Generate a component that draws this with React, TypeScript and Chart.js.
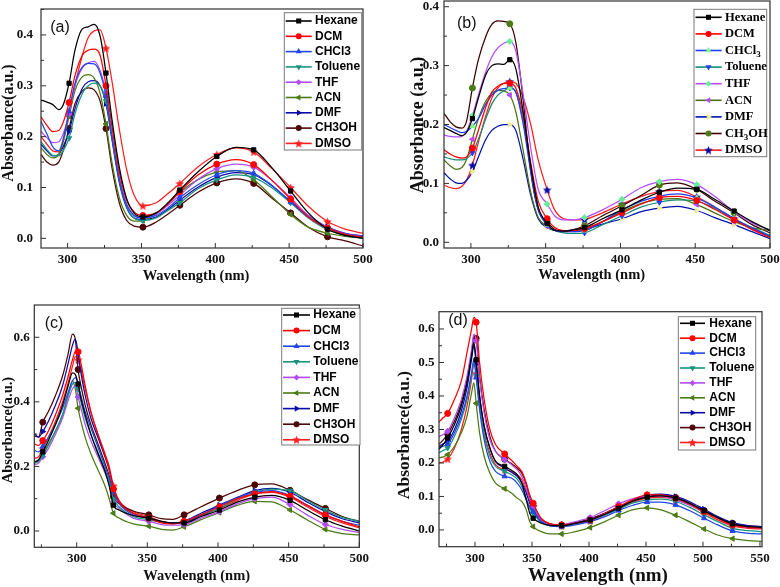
import React, { useEffect, useRef } from 'react';
import { Chart, registerables } from 'chart.js';
Chart.register(...registerables);

// ---------- names ----------
const NAMES = ['Hexane', 'DCM', 'CHCl3', 'Toluene', 'THF', 'ACN', 'DMF', 'CH3OH', 'DMSO'];
const NAMES_B = ['Hexane', 'DCM', 'CHCl_3', 'Toluene', 'THF', 'ACN', 'DMF', 'CH_3OH', 'DMSO'];

// ---------- panel (a) ----------
const WL_A = [282, 286, 290, 294, 297, 301, 305, 310, 314, 318, 322, 326, 330, 335, 340, 345, 351, 360, 368, 376, 388, 401, 414, 426, 438, 451, 463, 476, 488, 500];
const A_HEXANE = [0.272, 0.268, 0.263, 0.253, 0.262, 0.305, 0.37, 0.412, 0.416, 0.421, 0.398, 0.325, 0.235, 0.14, 0.078, 0.05, 0.042, 0.05, 0.07, 0.095, 0.13, 0.161, 0.179, 0.174, 0.14, 0.093, 0.05, 0.018, 0.006, 0.0];
const A_DCM = [0.239, 0.222, 0.21, 0.212, 0.228, 0.267, 0.32, 0.36, 0.37, 0.372, 0.36, 0.30, 0.22, 0.13, 0.075, 0.052, 0.045, 0.05, 0.068, 0.092, 0.124, 0.146, 0.155, 0.145, 0.115, 0.077, 0.042, 0.02, 0.008, 0.002];
const A_CHCL3 = [0.23, 0.205, 0.18, 0.172, 0.195, 0.25, 0.305, 0.337, 0.344, 0.343, 0.325, 0.28, 0.2, 0.115, 0.065, 0.045, 0.04, 0.045, 0.06, 0.08, 0.105, 0.125, 0.133, 0.128, 0.105, 0.072, 0.042, 0.02, 0.008, 0.003];
const A_TOLUENE = [0.19, 0.175, 0.163, 0.162, 0.172, 0.197, 0.245, 0.285, 0.3, 0.305, 0.3, 0.27, 0.2, 0.115, 0.062, 0.04, 0.035, 0.04, 0.055, 0.07, 0.097, 0.115, 0.125, 0.12, 0.1, 0.07, 0.04, 0.017, 0.006, 0.0];
const A_THF = [0.21, 0.198, 0.188, 0.19, 0.205, 0.245, 0.3, 0.335, 0.345, 0.348, 0.33, 0.285, 0.205, 0.12, 0.068, 0.046, 0.041, 0.048, 0.065, 0.085, 0.115, 0.137, 0.146, 0.14, 0.115, 0.08, 0.045, 0.021, 0.009, 0.004];
const A_ACN = [0.178, 0.165, 0.158, 0.165, 0.19, 0.24, 0.29, 0.318, 0.322, 0.315, 0.285, 0.225, 0.15, 0.08, 0.045, 0.034, 0.035, 0.048, 0.068, 0.09, 0.115, 0.13, 0.133, 0.115, 0.083, 0.047, 0.022, 0.01, 0.004, 0.0];
const A_DMF = [0.185, 0.172, 0.162, 0.165, 0.18, 0.21, 0.255, 0.295, 0.308, 0.31, 0.3, 0.265, 0.195, 0.11, 0.06, 0.04, 0.037, 0.042, 0.057, 0.075, 0.1, 0.12, 0.129, 0.125, 0.104, 0.072, 0.045, 0.022, 0.01, 0.005];
const A_CH3OH = [0.165, 0.15, 0.144, 0.15, 0.172, 0.216, 0.265, 0.29, 0.296, 0.292, 0.27, 0.216, 0.14, 0.07, 0.035, 0.024, 0.022, 0.032, 0.048, 0.065, 0.09, 0.109, 0.117, 0.108, 0.08, 0.05, 0.022, 0.003, -0.005, -0.015];
const A_DMSO = [0.2, 0.185, 0.172, 0.17, 0.19, 0.243, 0.3, 0.36, 0.395, 0.408, 0.41, 0.374, 0.31, 0.215, 0.135, 0.085, 0.064, 0.07, 0.088, 0.108, 0.14, 0.165, 0.178, 0.17, 0.138, 0.1, 0.063, 0.033, 0.018, 0.01];

// ---------- panel (b) ----------
const WL_B = [282, 286, 290, 294, 297, 301, 305, 310, 314, 318, 322, 326, 330, 335, 340, 345, 351, 356, 362, 368, 376, 388, 401, 414, 426, 438, 451, 463, 476, 488, 500];
const B_HEXANE = [0.195, 0.19, 0.185, 0.181, 0.186, 0.21, 0.245, 0.285, 0.3, 0.303, 0.302, 0.31, 0.295, 0.22, 0.13, 0.06, 0.032, 0.02, 0.019, 0.021, 0.025, 0.04, 0.055, 0.072, 0.085, 0.092, 0.09, 0.073, 0.053, 0.035, 0.02];
const B_DCM = [0.157, 0.15, 0.145, 0.143, 0.145, 0.16, 0.19, 0.23, 0.255, 0.265, 0.27, 0.27, 0.262, 0.215, 0.135, 0.07, 0.04, 0.025, 0.02, 0.02, 0.023, 0.035, 0.05, 0.065, 0.076, 0.078, 0.071, 0.056, 0.038, 0.022, 0.008];
const B_CHCL3 = [0.2, 0.195, 0.19, 0.186, 0.188, 0.197, 0.21, 0.235, 0.25, 0.258, 0.261, 0.262, 0.255, 0.2, 0.12, 0.055, 0.03, 0.02, 0.018, 0.018, 0.02, 0.035, 0.055, 0.07, 0.078, 0.082, 0.075, 0.06, 0.04, 0.024, 0.01];
const B_TOLUENE = [0.145, 0.142, 0.14, 0.14, 0.142, 0.152, 0.175, 0.21, 0.235, 0.25, 0.257, 0.262, 0.255, 0.205, 0.125, 0.058, 0.03, 0.02, 0.016, 0.015, 0.016, 0.03, 0.045, 0.06, 0.068, 0.072, 0.07, 0.058, 0.04, 0.025, 0.012];
const B_THF = [0.182, 0.18, 0.179, 0.18, 0.188, 0.215, 0.25, 0.29, 0.315, 0.33, 0.338, 0.341, 0.325, 0.25, 0.16, 0.09, 0.065, 0.045, 0.038, 0.038, 0.042, 0.055, 0.073, 0.093, 0.103, 0.107, 0.098, 0.078, 0.052, 0.033, 0.021];
const B_ACN = [0.14, 0.13, 0.124, 0.127, 0.14, 0.175, 0.21, 0.24, 0.253, 0.258, 0.257, 0.25, 0.222, 0.155, 0.085, 0.042, 0.027, 0.02, 0.018, 0.019, 0.02, 0.035, 0.052, 0.066, 0.073, 0.074, 0.064, 0.05, 0.035, 0.025, 0.02];
const B_DMF = [0.118, 0.108, 0.101, 0.1, 0.105, 0.12, 0.145, 0.175, 0.19, 0.197, 0.2, 0.2, 0.19, 0.14, 0.08, 0.04, 0.025, 0.02, 0.019, 0.02, 0.022, 0.031, 0.04, 0.052, 0.058, 0.061, 0.054, 0.042, 0.03, 0.018, 0.006];
const B_CH3OH = [0.219, 0.205, 0.196, 0.194, 0.205, 0.262, 0.31, 0.35, 0.37, 0.376, 0.375, 0.371, 0.34, 0.24, 0.12, 0.055, 0.035, 0.022, 0.019, 0.021, 0.028, 0.045, 0.062, 0.08, 0.097, 0.101, 0.09, 0.07, 0.05, 0.03, 0.016];
const B_DMSO = [0.097, 0.093, 0.091, 0.095, 0.105, 0.131, 0.17, 0.215, 0.245, 0.262, 0.27, 0.273, 0.27, 0.245, 0.2, 0.14, 0.089, 0.055, 0.04, 0.038, 0.039, 0.05, 0.065, 0.078, 0.086, 0.088, 0.077, 0.06, 0.04, 0.022, 0.01];

// ---------- panel (c) ----------
const WL_C = [270, 273, 276, 280, 285, 290, 294, 297, 299, 301, 303, 306, 310, 315, 320, 323, 326, 330, 340, 351, 360, 368, 376, 388, 401, 414, 426, 438, 451, 463, 476, 488, 500];
const C_HEXANE = [0.215, 0.22, 0.245, 0.28, 0.33, 0.39, 0.45, 0.49, 0.485, 0.455, 0.41, 0.36, 0.3, 0.24, 0.185, 0.14, 0.08, 0.065, 0.048, 0.04, 0.03, 0.025, 0.025, 0.045, 0.065, 0.09, 0.105, 0.11, 0.095, 0.065, 0.035, 0.015, 0.0];
const C_DCM = [0.27, 0.265, 0.28, 0.31, 0.36, 0.42, 0.48, 0.53, 0.555, 0.555, 0.52, 0.45, 0.37, 0.3, 0.235, 0.19, 0.13, 0.09, 0.055, 0.04, 0.025, 0.022, 0.03, 0.05, 0.075, 0.1, 0.115, 0.122, 0.108, 0.08, 0.05, 0.03, 0.013];
const C_CHCL3 = [0.25, 0.245, 0.262, 0.29, 0.33, 0.38, 0.43, 0.465, 0.475, 0.455, 0.42, 0.37, 0.32, 0.26, 0.2, 0.165, 0.12, 0.085, 0.05, 0.04, 0.028, 0.024, 0.028, 0.05, 0.078, 0.103, 0.12, 0.125, 0.11, 0.08, 0.05, 0.03, 0.018];
const C_TOLUENE = [0.21, 0.215, 0.235, 0.265, 0.31, 0.36, 0.42, 0.455, 0.46, 0.44, 0.4, 0.35, 0.3, 0.245, 0.19, 0.155, 0.1, 0.075, 0.045, 0.035, 0.027, 0.025, 0.025, 0.048, 0.07, 0.1, 0.12, 0.13, 0.125, 0.095, 0.065, 0.042, 0.03];
const C_THF = [0.205, 0.21, 0.23, 0.255, 0.3, 0.35, 0.405, 0.44, 0.45, 0.415, 0.38, 0.33, 0.28, 0.23, 0.18, 0.145, 0.09, 0.07, 0.04, 0.03, 0.02, 0.018, 0.02, 0.04, 0.06, 0.085, 0.1, 0.105, 0.082, 0.05, 0.02, 0.005, -0.005];
const C_ACN = [0.21, 0.22, 0.24, 0.27, 0.31, 0.36, 0.42, 0.465, 0.44, 0.38, 0.34, 0.29, 0.24, 0.19, 0.14, 0.1, 0.055, 0.04, 0.022, 0.015, 0.005, 0.003, 0.013, 0.035, 0.057, 0.08, 0.092, 0.09, 0.065, 0.035, 0.005, -0.008, -0.012];
const C_DMF = [0.303, 0.29, 0.308, 0.34, 0.39, 0.45, 0.52, 0.575, 0.595, 0.551, 0.49, 0.42, 0.35, 0.29, 0.23, 0.19, 0.13, 0.09, 0.055, 0.04, 0.027, 0.024, 0.03, 0.055, 0.08, 0.105, 0.125, 0.132, 0.12, 0.09, 0.06, 0.038, 0.025];
const C_CH3OH = [0.294, 0.292, 0.337, 0.37, 0.42, 0.48, 0.55, 0.61, 0.595, 0.50, 0.45, 0.39, 0.33, 0.27, 0.21, 0.17, 0.106, 0.085, 0.062, 0.05, 0.038, 0.036, 0.05, 0.075, 0.102, 0.126, 0.143, 0.146, 0.126, 0.098, 0.07, 0.045, 0.03];
const C_DMSO = [0.225, 0.23, 0.255, 0.29, 0.34, 0.4, 0.46, 0.51, 0.54, 0.53, 0.5, 0.44, 0.37, 0.3, 0.24, 0.2, 0.14, 0.095, 0.06, 0.045, 0.03, 0.025, 0.03, 0.05, 0.07, 0.095, 0.115, 0.12, 0.105, 0.075, 0.045, 0.025, 0.01];

// ---------- panel (d) ----------
const WL_D = [268, 272, 276, 282, 288, 293, 297, 299, 301, 304, 308, 313, 318, 326, 332, 337, 341, 345, 348, 351, 358, 366, 376, 388, 401, 414, 426, 438, 451, 463, 476, 488, 501, 513, 526, 540, 552];
const D_HEXANE = [0.24, 0.255, 0.275, 0.315, 0.37, 0.44, 0.52, 0.56, 0.508, 0.4, 0.31, 0.245, 0.205, 0.19, 0.178, 0.165, 0.14, 0.09, 0.05, 0.035, 0.02, 0.014, 0.013, 0.02, 0.03, 0.047, 0.065, 0.085, 0.098, 0.102, 0.095, 0.08, 0.057, 0.037, 0.018, 0.01, 0.008];
const D_DCM = [0.321, 0.335, 0.348, 0.39, 0.445, 0.53, 0.6, 0.635, 0.62, 0.5, 0.39, 0.3, 0.255, 0.227, 0.208, 0.19, 0.175, 0.14, 0.105, 0.08, 0.035, 0.018, 0.015, 0.02, 0.03, 0.05, 0.07, 0.09, 0.105, 0.105, 0.095, 0.078, 0.055, 0.035, 0.015, 0.008, 0.005];
const D_CHCL3 = [0.245, 0.25, 0.257, 0.29, 0.34, 0.4, 0.47, 0.51, 0.455, 0.36, 0.27, 0.205, 0.175, 0.16, 0.155, 0.14, 0.12, 0.09, 0.068, 0.055, 0.025, 0.012, 0.01, 0.015, 0.025, 0.04, 0.058, 0.073, 0.083, 0.083, 0.075, 0.058, 0.035, 0.015, -0.003, -0.01, -0.012];
const D_TOLUENE = [0.23, 0.237, 0.245, 0.28, 0.33, 0.39, 0.46, 0.5, 0.46, 0.37, 0.285, 0.22, 0.19, 0.175, 0.165, 0.152, 0.13, 0.095, 0.065, 0.05, 0.022, 0.012, 0.011, 0.017, 0.028, 0.045, 0.062, 0.08, 0.09, 0.092, 0.085, 0.068, 0.045, 0.025, 0.005, -0.002, -0.005];
const D_THF = [0.278, 0.285, 0.295, 0.335, 0.39, 0.46, 0.54, 0.585, 0.565, 0.45, 0.35, 0.27, 0.235, 0.21, 0.195, 0.18, 0.16, 0.125, 0.09, 0.07, 0.03, 0.017, 0.016, 0.025, 0.037, 0.058, 0.078, 0.093, 0.1, 0.1, 0.09, 0.075, 0.055, 0.035, 0.015, 0.008, 0.005];
const D_ACN = [0.215, 0.218, 0.225, 0.25, 0.29, 0.34, 0.41, 0.44, 0.378, 0.29, 0.22, 0.17, 0.14, 0.123, 0.11, 0.095, 0.085, 0.06, 0.025, 0.01, -0.005, -0.012, -0.012, -0.005, 0.007, 0.025, 0.044, 0.06, 0.066, 0.06, 0.044, 0.025, 0.003, -0.015, -0.026, -0.032, -0.034];
const D_DMF = [0.25, 0.257, 0.265, 0.3, 0.355, 0.425, 0.51, 0.55, 0.495, 0.4, 0.31, 0.245, 0.205, 0.185, 0.172, 0.16, 0.14, 0.11, 0.08, 0.06, 0.027, 0.015, 0.014, 0.02, 0.032, 0.05, 0.068, 0.088, 0.103, 0.107, 0.1, 0.085, 0.062, 0.04, 0.022, 0.013, 0.01];
const D_CH3OH = [0.255, 0.268, 0.286, 0.325, 0.38, 0.45, 0.53, 0.575, 0.572, 0.46, 0.36, 0.28, 0.235, 0.211, 0.198, 0.185, 0.17, 0.135, 0.095, 0.072, 0.032, 0.018, 0.015, 0.022, 0.033, 0.05, 0.068, 0.088, 0.1, 0.105, 0.097, 0.08, 0.058, 0.038, 0.02, 0.012, 0.01];
const D_DMSO = [0.2, 0.203, 0.212, 0.245, 0.3, 0.37, 0.45, 0.5, 0.468, 0.37, 0.29, 0.23, 0.195, 0.18, 0.175, 0.165, 0.15, 0.115, 0.085, 0.07, 0.03, 0.015, 0.012, 0.018, 0.027, 0.045, 0.065, 0.082, 0.095, 0.097, 0.09, 0.075, 0.052, 0.03, 0.012, 0.005, 0.003];

// ---------- marker positions & ticks ----------
const MARKS_AB = [301, 326, 351, 376, 401, 426, 451, 476];
const MARKS_C = [276, 301, 326, 351, 376, 401, 426, 451, 476];
const MARKS_D = [276, 301, 326, 351, 376, 401, 426, 451, 476, 501, 526];
const XT_ABC = [300, 350, 400, 450, 500];
const XM_ABC = [275, 325, 375, 425, 475];
const XT_D = [300, 350, 400, 450, 500, 550];
const XM_D = [275, 325, 375, 425, 475, 525];
const YT_AB = [0, 0.1, 0.2, 0.3, 0.4];
const YM_AB = [0.05, 0.15, 0.25, 0.35, 0.45];
const YT_C = [0, 0.2, 0.4, 0.6];
const YM_C = [0.1, 0.3, 0.5];
const YT_D = [0, 0.1, 0.2, 0.3, 0.4, 0.5, 0.6];
const YM_D = [0.05, 0.15, 0.25, 0.35, 0.45, 0.55];

type Sty = { line: string; mark: string; shape: string; rot: number };
const STY_STD: Sty[] = [
  { line: '#000000', mark: '#000000', shape: 'rect', rot: 0 },
  { line: '#ff0000', mark: '#ff0000', shape: 'circle', rot: 0 },
  { line: '#2346e6', mark: '#2346e6', shape: 'triangle', rot: 0 },
  { line: '#1a9480', mark: '#1a9480', shape: 'triangle', rot: 180 },
  { line: '#b24cf2', mark: '#b24cf2', shape: 'rectRot', rot: 0 },
  { line: '#4b7b14', mark: '#4b7b14', shape: 'triangle', rot: 270 },
  { line: '#0b0bab', mark: '#0b0bab', shape: 'triangle', rot: 90 },
  { line: '#4e0606', mark: '#4e0606', shape: 'circle', rot: 0 },
  { line: '#ff1f1f', mark: '#ff1f1f', shape: 'star', rot: 0 },
];
const STY_B: Sty[] = [
  { line: '#000000', mark: '#000000', shape: 'rect', rot: 0 },
  { line: '#ff0000', mark: '#ff0000', shape: 'circle', rot: 0 },
  { line: '#1f3cff', mark: '#7dff7d', shape: 'triangle', rot: 0 },
  { line: '#148a78', mark: '#1f3cff', shape: 'triangle', rot: 180 },
  { line: '#b54cff', mark: '#66ee99', shape: 'rectRot', rot: 0 },
  { line: '#4a7010', mark: '#b54cff', shape: 'triangle', rot: 270 },
  { line: '#0010b0', mark: '#eeee99', shape: 'triangle', rot: 90 },
  { line: '#3d0000', mark: '#4f7a1a', shape: 'circle', rot: 0 },
  { line: '#ff2020', mark: '#0a0aa0', shape: 'star', rot: 0 },
];

type Txt = { text: string; x: number; y: number; font: string };
type Leg = { box: number[]; row0: number; dy: number; l0: number; l1: number; mx: number; tx: number; font: string; subFont: string };
type Cfg = {
  ox: number; oy: number; w: number; h: number; plot: number[];
  xMin: number; xMax: number; yMin: number; yMax: number;
  xs: number[]; series: number[][]; names: string[]; styles: Sty[]; marks: number[];
  xMajor: number[]; xMinor: number[]; yMajor: number[]; yMinor: number[];
  yGap: number; xOff: number; xTitle: Txt; yTitle: Txt; tag: Txt; legend: Leg;
};

const TICKF = 'bold 13px "Liberation Serif"';
const SERIF = '"Liberation Serif"';
const SANS = '"Liberation Sans"';

const PANELS: Cfg[] = [
  {
    ox: 0, oy: 0, w: 390, h: 290, plot: [41, 9, 363, 248],
    xMin: 282, xMax: 500, yMin: -0.019, yMax: 0.451,
    xs: WL_A, series: [A_HEXANE, A_DCM, A_CHCL3, A_TOLUENE, A_THF, A_ACN, A_DMF, A_CH3OH, A_DMSO],
    names: NAMES, styles: STY_STD, marks: MARKS_AB,
    xMajor: XT_ABC, xMinor: XM_ABC, yMajor: YT_AB, yMinor: YM_AB, yGap: 8, xOff: 11.5,
    xTitle: { text: 'Wavelength (nm)', x: 196, y: 276, font: `bold 14.5px ${SERIF}` },
    yTitle: { text: 'Absorbance(a.u.)', x: 9, y: 123, font: `bold 16px ${SERIF}` },
    tag: { text: '(a)', x: 60, y: 27.5, font: `16px ${SANS}` },
    legend: { box: [284.3, 12.7, 361.7, 150], row0: 21, dy: 15.3, l0: 285.7, l1: 311.7, mx: 298.7, tx: 315, font: `bold 12px ${SANS}`, subFont: `bold 9px ${SANS}` },
  },
  {
    ox: 390, oy: 0, w: 390, h: 290, plot: [444, 1, 770, 248],
    xMin: 282, xMax: 500, yMin: -0.0097, yMax: 0.4097,
    xs: WL_B, series: [B_HEXANE, B_DCM, B_CHCL3, B_TOLUENE, B_THF, B_ACN, B_DMF, B_CH3OH, B_DMSO],
    names: NAMES_B, styles: STY_B, marks: MARKS_AB,
    xMajor: XT_ABC, xMinor: XM_ABC, yMajor: YT_AB, yMinor: YM_AB, yGap: 5, xOff: 11.5,
    xTitle: { text: 'Wavelength (nm)', x: 591.7, y: 275, font: `bold 14.5px ${SERIF}` },
    yTitle: { text: 'Absorbance (a.u.)', x: 418.5, y: 125, font: `bold 18px ${SERIF}` },
    tag: { text: '(b)', x: 466.7, y: 24, font: `16px ${SANS}` },
    legend: { box: [694, 9.3, 766.7, 156.7], row0: 17.3, dy: 16.6, l0: 695.5, l1: 721.7, mx: 708.5, tx: 725, font: `bold 12.5px ${SERIF}`, subFont: `bold 9px ${SERIF}` },
  },
  {
    ox: 0, oy: 290, w: 390, h: 297, plot: [34.3, 305, 359.3, 547.3],
    xMin: 270, xMax: 500, yMin: -0.0505, yMax: 0.70,
    xs: WL_C, series: [C_HEXANE, C_DCM, C_CHCL3, C_TOLUENE, C_THF, C_ACN, C_DMF, C_CH3OH, C_DMSO],
    names: NAMES, styles: STY_STD, marks: MARKS_C,
    xMajor: XT_ABC, xMinor: XM_ABC, yMajor: YT_C, yMinor: YM_C, yGap: 4.5, xOff: 11,
    xTitle: { text: 'Wavelength (nm)', x: 196.7, y: 576.7, font: `bold 14.5px ${SERIF}` },
    yTitle: { text: 'Absorbance(a.u.)', x: 8.3, y: 430, font: `bold 14.5px ${SERIF}` },
    tag: { text: '(c)', x: 54, y: 324, font: `16px ${SANS}` },
    legend: { box: [281.7, 308.3, 360, 445], row0: 315, dy: 15.6, l0: 283, l1: 310, mx: 296.5, tx: 313.3, font: `bold 12px ${SANS}`, subFont: `bold 9px ${SANS}` },
  },
  {
    ox: 390, oy: 290, w: 390, h: 297, plot: [439, 311.7, 762, 546.7],
    xMin: 268.4, xMax: 551.8, yMin: -0.05, yMax: 0.6516,
    xs: WL_D, series: [D_HEXANE, D_DCM, D_CHCL3, D_TOLUENE, D_THF, D_ACN, D_DMF, D_CH3OH, D_DMSO],
    names: NAMES, styles: STY_STD, marks: MARKS_D,
    xMajor: XT_D, xMinor: XM_D, yMajor: YT_D, yMinor: YM_D, yGap: 4.5, xOff: 11.5,
    xTitle: { text: 'Wavelength (nm)', x: 598, y: 576, font: `bold 19px ${SERIF}` },
    yTitle: { text: 'Absorbance(a.u.)', x: 404, y: 435, font: `bold 17.5px ${SERIF}` },
    tag: { text: '(d)', x: 458, y: 321, font: `16px ${SANS}` },
    legend: { box: [678.3, 316.7, 755.7, 450], row0: 323.3, dy: 14.9, l0: 680, l1: 705, mx: 692.5, tx: 709.3, font: `bold 12px ${SANS}`, subFont: `bold 9px ${SANS}` },
  },
];

const R = 3;

function makeStar(color: string, size = 9): HTMLCanvasElement {
  const c = document.createElement('canvas');
  c.width = size; c.height = size;
  const g = c.getContext('2d')!;
  g.fillStyle = color;
  g.beginPath();
  const cx = size / 2, cy = size / 2 + 0.5, Ro = size / 2, Ri = Ro * 0.45;
  for (let i = 0; i < 10; i++) {
    const a = -Math.PI / 2 + (i * Math.PI) / 5;
    const rr = i % 2 === 0 ? Ro : Ri;
    g.lineTo(cx + rr * Math.cos(a), cy + rr * Math.sin(a));
  }
  g.closePath();
  g.fill();
  return c;
}

function drawMarker(ctx: CanvasRenderingContext2D, st: Sty, x: number, y: number, star: HTMLCanvasElement | null) {
  ctx.save();
  ctx.fillStyle = st.mark;
  if (st.shape === 'star' && star) {
    ctx.drawImage(star, x - star.width / 2, y - star.height / 2);
    ctx.restore();
    return;
  }
  ctx.beginPath();
  if (st.shape === 'circle') {
    ctx.arc(x, y, R, 0, Math.PI * 2);
  } else if (st.shape === 'rect') {
    const s = R * Math.SQRT1_2 + 0.4;
    ctx.rect(x - s, y - s, 2 * s, 2 * s);
  } else if (st.shape === 'rectRot') {
    ctx.moveTo(x, y - R); ctx.lineTo(x + R, y); ctx.lineTo(x, y + R); ctx.lineTo(x - R, y);
  } else {
    let a = (st.rot * Math.PI) / 180;
    for (let i = 0; i < 3; i++) {
      const px = x + Math.sin(a) * (R + 0.5), py = y - Math.cos(a) * (R + 0.5);
      if (i === 0) ctx.moveTo(px, py); else ctx.lineTo(px, py);
      a += (2 * Math.PI) / 3;
    }
  }
  ctx.closePath();
  ctx.fill();
  ctx.restore();
}

function drawRich(ctx: CanvasRenderingContext2D, text: string, x: number, y: number, font: string, subFont: string) {
  const parts = text.split('_');
  let cx = x;
  parts.forEach((p, i) => {
    if (i === 0) {
      ctx.font = font; ctx.fillText(p, cx, y); cx += ctx.measureText(p).width;
    } else {
      const sub = p.charAt(0), rest = p.slice(1);
      ctx.font = subFont; ctx.fillText(sub, cx, y + 4); cx += ctx.measureText(sub).width;
      ctx.font = font; ctx.fillText(rest, cx, y); cx += ctx.measureText(rest).width;
    }
  });
}

function PanelChart({ cfg }: { cfg: Cfg }) {
  const ref = useRef<HTMLCanvasElement>(null);
  useEffect(() => {
    const canvas = ref.current!;
    const star = makeStar(cfg.styles[8].mark, 9);
    const [pl, pt, pr, pb] = cfg.plot;
    const decor = {
      id: 'decor',
      afterDraw(chart: any) {
        const ctx: CanvasRenderingContext2D = chart.ctx;
        const ca = chart.chartArea;
        const xs = chart.scales.x, ys = chart.scales.y;
        ctx.save();
        ctx.strokeStyle = '#303030';
        ctx.lineWidth = 1.2;
        ctx.strokeRect(ca.left, ca.top, ca.right - ca.left, ca.bottom - ca.top);
        ctx.lineWidth = 1;
        const tick = (x0: number, y0: number, x1: number, y1: number) => {
          ctx.beginPath(); ctx.moveTo(x0, y0); ctx.lineTo(x1, y1); ctx.stroke();
        };
        cfg.xMajor.forEach((v) => { const p = xs.getPixelForValue(v); if (p >= ca.left && p <= ca.right) tick(p, ca.bottom, p, ca.bottom - 5); });
        cfg.xMinor.forEach((v) => { const p = xs.getPixelForValue(v); if (p > ca.left && p < ca.right) tick(p, ca.bottom, p, ca.bottom - 3); });
        cfg.yMajor.forEach((v) => { const p = ys.getPixelForValue(v); if (p >= ca.top && p <= ca.bottom) tick(ca.left, p, ca.left + 5, p); });
        cfg.yMinor.forEach((v) => { const p = ys.getPixelForValue(v); if (p > ca.top && p < ca.bottom) tick(ca.left, p, ca.left + 3, p); });
        ctx.fillStyle = '#111';
        ctx.font = TICKF;
        ctx.textAlign = 'center'; ctx.textBaseline = 'middle';
        cfg.xMajor.forEach((v) => ctx.fillText(String(v), xs.getPixelForValue(v), ca.bottom + cfg.xOff));
        ctx.textAlign = 'right';
        cfg.yMajor.forEach((v) => ctx.fillText(v.toFixed(1), ca.left - cfg.yGap, ys.getPixelForValue(v)));
        // titles
        ctx.textAlign = 'center';
        ctx.font = cfg.xTitle.font;
        ctx.fillText(cfg.xTitle.text, cfg.xTitle.x - cfg.ox, cfg.xTitle.y - cfg.oy);
        ctx.save();
        ctx.translate(cfg.yTitle.x - cfg.ox, cfg.yTitle.y - cfg.oy);
        ctx.rotate(-Math.PI / 2);
        ctx.font = cfg.yTitle.font;
        ctx.fillText(cfg.yTitle.text, 0, 0);
        ctx.restore();
        ctx.font = cfg.tag.font;
        ctx.fillText(cfg.tag.text, cfg.tag.x - cfg.ox, cfg.tag.y - cfg.oy);
        // legend
        const L = cfg.legend;
        const bx = L.box[0] - cfg.ox, by = L.box[1] - cfg.oy, bw = L.box[2] - L.box[0], bh = L.box[3] - L.box[1];
        ctx.fillStyle = '#ffffff';
        ctx.fillRect(bx, by, bw, bh);
        ctx.strokeStyle = '#7a7a7a';
        ctx.lineWidth = 1;
        ctx.strokeRect(bx, by, bw, bh);
        ctx.textAlign = 'left';
        cfg.names.forEach((name, i) => {
          const st = cfg.styles[i];
          const yy = L.row0 + i * L.dy - cfg.oy;
          ctx.strokeStyle = st.line;
          ctx.lineWidth = 1.6;
          ctx.beginPath(); ctx.moveTo(L.l0 - cfg.ox, yy); ctx.lineTo(L.l1 - cfg.ox, yy); ctx.stroke();
          drawMarker(ctx, st, L.mx - cfg.ox, yy, star);
          ctx.fillStyle = '#000';
          drawRich(ctx, name, L.tx - cfg.ox, yy, L.font, L.subFont);
        });
        ctx.restore();
      },
    };
    const chart = new Chart(canvas, {
      type: 'line',
      data: {
        datasets: cfg.series.map((ys, i) => {
          const st = cfg.styles[i];
          return {
            label: cfg.names[i],
            data: cfg.xs.map((x, j) => ({ x, y: ys[j] })),
            borderColor: st.line,
            backgroundColor: st.mark,
            pointBackgroundColor: st.mark,
            pointBorderColor: st.mark,
            pointBorderWidth: 1,
            borderWidth: 1.25,
            pointStyle: (st.shape === 'star' ? star : st.shape) as any,
            pointRotation: st.rot,
            pointRadius: cfg.xs.map((x) => (cfg.marks.includes(x) ? R : 0)),
            pointHoverRadius: 0,
            cubicInterpolationMode: 'monotone' as const,
            fill: false,
          };
        }),
      },
      options: {
        responsive: false,
        animation: false,
        devicePixelRatio: 1,
        events: [],
        layout: { padding: { left: pl - cfg.ox, top: pt - cfg.oy, right: cfg.ox + cfg.w - pr, bottom: cfg.oy + cfg.h - pb } },
        scales: {
          x: { type: 'linear', min: cfg.xMin, max: cfg.xMax, display: false },
          y: { type: 'linear', min: cfg.yMin, max: cfg.yMax, display: false },
        },
        plugins: { legend: { display: false }, tooltip: { enabled: false }, title: { display: false } },
      },
      plugins: [decor],
    } as any);
    return () => chart.destroy();
  }, [cfg]);
  return (
    <canvas
      ref={ref}
      width={cfg.w}
      height={cfg.h}
      style={{ position: 'absolute', left: cfg.ox, top: cfg.oy, width: cfg.w, height: cfg.h }}
    />
  );
}

export default function App() {
  return (
    <div style={{ position: 'absolute', left: 0, top: 0, width: 780, height: 587, background: '#ffffff', overflow: 'hidden' }}>
      {PANELS.map((p, i) => (
        <PanelChart key={i} cfg={p} />
      ))}
    </div>
  );
}
